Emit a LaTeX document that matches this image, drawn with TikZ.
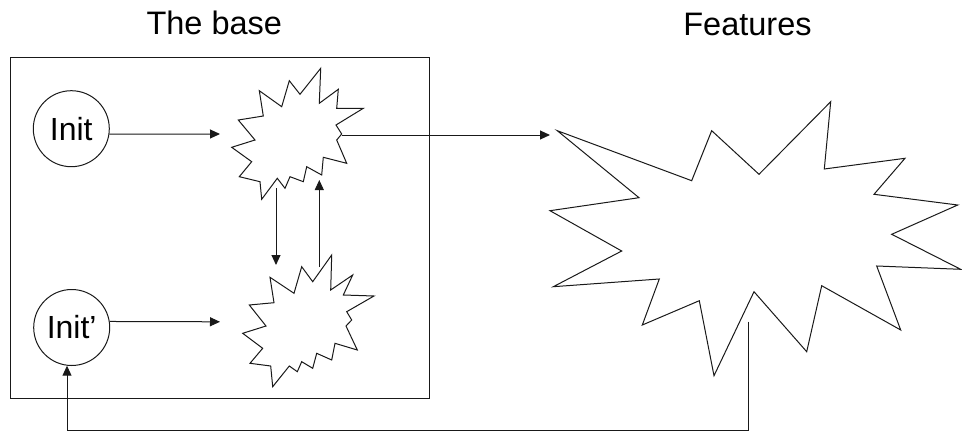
\documentclass[tikz,border=0pt]{standalone}
\usepackage{fontspec}
\setmainfont{Liberation Sans}
\usetikzlibrary{arrows.meta,calc}
\tikzset{
  ln/.style={line width=1pt, draw=black!90},
  arr/.style={ln, -{Triangle[length=10pt,width=9pt]}},
  initnode/.style={circle, ln, minimum size=76pt, inner sep=0pt, font=\fontsize{32}{38}\selectfont},
  title/.style={anchor=base, font=\fontsize{32.5}{38}\selectfont},
  starshape/.style={ln, line join=miter},
}
\begin{document}
\begin{tikzpicture}[x=1pt,y=-1pt]
\useasboundingbox (0,0) rectangle (962,431);
% titles
\node[title] (tbase) at (214.3,34.3) {The base};
\node[title] (tfeat) at (747.5,35) {Features};
% base frame
\draw[ln] (10,57.3) rectangle (429.3,398);
% init circles
\node[initnode] (init) at (71.3,128.7) {Init};
\node[initnode] (init2) at (71.7,327.5) {Init’};
% small star 1
\draw[starshape] (238.3,120) -- (263.3,116) -- (259.3,90.7) -- (281.7,106.7) -- (289.3,80.7) -- (300,94.3) -- (320.7,68.3) -- (319.3,103.3) -- (338.3,89.3) -- (336.7,108.3) -- (363.3,108.3) -- (336,125) -- (341.7,134) -- (336.7,140) -- (346.7,163.3) -- (323.3,157.3) -- (321.7,175) -- (306.7,166.7) -- (303.3,181.7) -- (290,176.7) -- (285,188.3) -- (277.3,178.3) -- (261.7,199.3) -- (260,181.7) -- (239.3,176.7) -- (251.7,161.7) -- (231.7,147.3) -- (255,140) -- cycle;
% small star 2
\draw[starshape] (270,277.3) -- (294,293.3) -- (301.7,266.7) -- (312.7,281.7) -- (331.7,255) -- (330.7,290) -- (352.7,275) -- (343.3,295) -- (374,296) -- (346.7,311.7) -- (351.7,320) -- (346,326) -- (357.3,350) -- (335,343.3) -- (331.7,360) -- (316.7,353.3) -- (312.7,368.3) -- (301.7,361.7) -- (297.3,371.7) -- (289.3,366) -- (272.7,386.7) -- (270.7,366) -- (250,363.3) -- (262.7,348.3) -- (242.7,333.3) -- (266,326) -- (249.3,305) -- (274,302.7) -- cycle;
% big star
\draw[starshape] (557.3,130.7) -- (691.7,180.7) -- (711.7,130.7) -- (759,174.3) -- (830.7,101.7) -- (824.3,169) -- (905,158.3) -- (874,194.3) -- (957.7,205) -- (891.7,234.3) -- (960.7,269.3) -- (876.7,266) -- (900.7,330) -- (821.7,285.7) -- (806.7,351.7) -- (754,291.7) -- (714,375.7) -- (699.3,300.7) -- (642.3,325) -- (659.3,279) -- (553.3,286.7) -- (621.7,251) -- (550,210.7) -- (639,197.7) -- cycle;
% connector end points
\coordinate (s1in) at (220,134);
\coordinate (s2in) at (220,321.8);
\coordinate (s1out) at (341.7,135);
\coordinate (fin) at (550,135);
\coordinate (s1down) at (276,188);
\coordinate (s2top) at (276,265);
\coordinate (s2up) at (319.3,267);
\coordinate (s1bot) at (319.3,180);
\coordinate (fout) at (748.5,321.7);
\coordinate (rb) at (748.5,430);
% connectors
\draw[arr] (init.-8) -- (s1in);
\draw[arr] (init2.9) -- (s2in);
\draw[arr] (s1out) -- (fin);
\draw[arr] (s1down) -- (s2top);
\draw[arr] (s2up) -- (s1bot);
\draw[arr] (fout) -- (rb) -| (init2.-97);
\end{tikzpicture}
\end{document}
